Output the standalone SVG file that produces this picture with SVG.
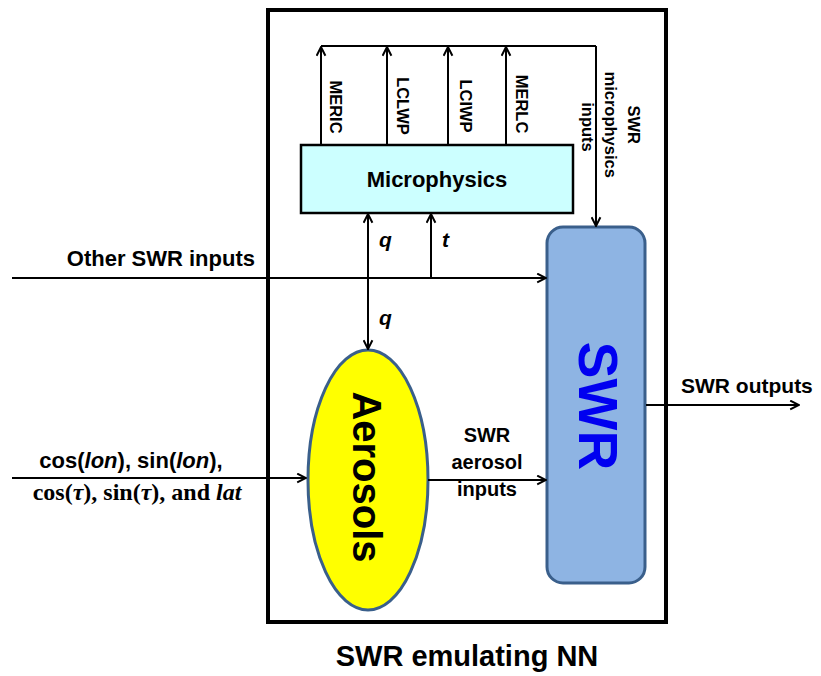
<svg xmlns="http://www.w3.org/2000/svg" width="821" height="676" viewBox="0 0 821 676">
<style>
.ln{stroke:#000;stroke-width:2;fill:none}
.t{font-family:"Liberation Sans",Arial,sans-serif;font-weight:bold;fill:#000}
.tm{font-family:"Liberation Serif","Times New Roman",serif;font-weight:bold;fill:#000}
.rl{font-size:16.5px}
</style>
<defs>
<marker id="arr" viewBox="0 0 10 10" refX="9" refY="5" markerWidth="11" markerHeight="11" orient="auto-start-reverse" markerUnits="userSpaceOnUse">
<path d="M1,1 L9,5 L1,9" fill="none" stroke="#000" stroke-width="1.8"/>
</marker>
</defs>
<rect width="821" height="676" fill="#fff"/>
<g id="nn-box">
<rect x="268" y="10" width="398" height="612" fill="none" stroke="#000" stroke-width="4"/>
<text class="t" x="467" y="666" font-size="29" text-anchor="middle">SWR emulating NN</text>
</g>
<g id="microphysics">
<rect x="301" y="145" width="272" height="68" fill="#CCFFFF" stroke="#000" stroke-width="2.5"/>
<text class="t" x="437" y="187" font-size="22" text-anchor="middle">Microphysics</text>
</g>
<g id="aerosols">
<ellipse cx="368" cy="480" rx="60" ry="130" fill="#FFFF00" stroke="#3A5F8B" stroke-width="3"/>
<text class="t" transform="translate(353,477) rotate(90)" font-size="40" text-anchor="middle">Aerosols</text>
</g>
<g id="swr">
<rect x="547" y="227" width="98" height="356" rx="16" fill="#8EB4E3" stroke="#3A5F8B" stroke-width="3"/>
<text class="t" transform="translate(579,406) rotate(90)" font-size="55" text-anchor="middle" style="fill:#0000F0">SWR</text>
</g>
<g id="connectors">
<path class="ln" d="M321,46 L596,46"/>
<path class="ln" d="M321,145 L321,47" marker-end="url(#arr)"/>
<path class="ln" d="M387,145 L387,47" marker-end="url(#arr)"/>
<path class="ln" d="M448,145 L448,47" marker-end="url(#arr)"/>
<path class="ln" d="M506,145 L506,47" marker-end="url(#arr)"/>
<path class="ln" d="M596,46 L596,226" marker-end="url(#arr)"/>
<path class="ln" d="M12,278 L546,278" marker-end="url(#arr)"/>
<path class="ln" d="M368,214 L368,349" marker-start="url(#arr)" marker-end="url(#arr)"/>
<path class="ln" d="M431,278 L431,214" marker-end="url(#arr)"/>
<path class="ln" d="M12,478 L306,478" marker-end="url(#arr)"/>
<path class="ln" d="M428,480 L546,480" marker-end="url(#arr)"/>
<path class="ln" d="M646,405 L799,405" marker-end="url(#arr)"/>
</g>
<g id="labels">
<text class="t rl" transform="translate(330,107) rotate(90)" text-anchor="middle">MERIC</text>
<text class="t rl" transform="translate(397,106) rotate(90)" text-anchor="middle">LCLWP</text>
<text class="t rl" transform="translate(460,106) rotate(90)" text-anchor="middle">LCIWP</text>
<text class="t rl" transform="translate(516,104) rotate(90)" text-anchor="middle">MERLC</text>
<text class="t rl" transform="translate(628,127) rotate(90)" text-anchor="middle">
<tspan x="0" y="0">SWR</tspan>
<tspan x="0" y="23">microphysics</tspan>
<tspan x="0" y="46">inputs</tspan>
</text>
<text class="t" x="255" y="266" font-size="22" text-anchor="end">Other SWR inputs</text>
<text class="t" x="379" y="247" font-size="21" font-style="italic">q</text>
<text class="t" x="442" y="247" font-size="21" font-style="italic">t</text>
<text class="t" x="379" y="325" font-size="21" font-style="italic">q</text>
<text class="t" x="131" y="468" font-size="22" text-anchor="middle">cos(<tspan font-style="italic">lon</tspan>), sin(<tspan font-style="italic">lon</tspan>),</text>
<text class="tm" x="137" y="500" font-size="24" text-anchor="middle">cos(<tspan font-style="italic">τ</tspan>), sin(<tspan font-style="italic">τ</tspan>), and <tspan font-style="italic">lat</tspan></text>
<text class="t" x="487" y="442" font-size="20" text-anchor="middle">SWR</text>
<text class="t" x="487" y="469" font-size="20" text-anchor="middle">aerosol</text>
<text class="t" x="487" y="496" font-size="20" text-anchor="middle">inputs</text>
<text class="t" x="681" y="393" font-size="21">SWR outputs</text>
</g>
</svg>
